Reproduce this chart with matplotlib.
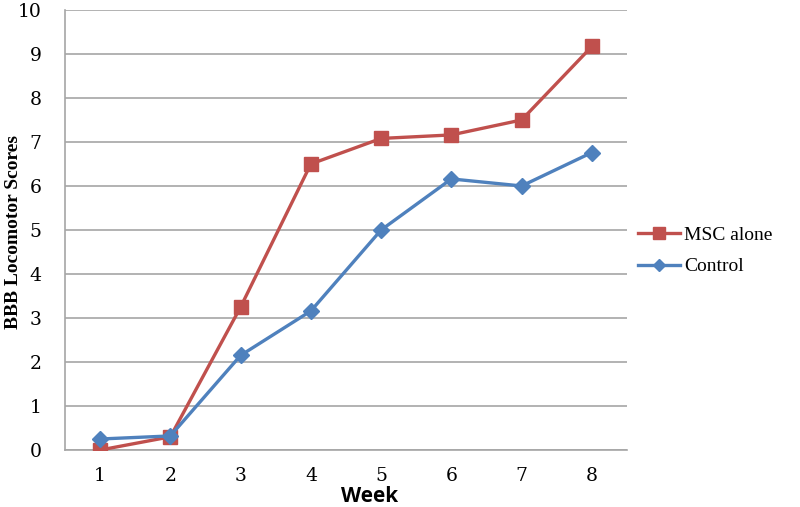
import matplotlib
matplotlib.use("Agg")
import matplotlib.pyplot as plt
from matplotlib.lines import Line2D

weeks = [1, 2, 3, 4, 5, 6, 7, 8]
msc_alone = [0.0, 0.3, 3.25, 6.5, 7.08, 7.16, 7.5, 9.17]
control = [0.25, 0.32, 2.15, 3.16, 5.0, 6.16, 6.0, 6.76]

red = "#C0504D"
blue = "#4F81BD"

fig = plt.figure(figsize=(8, 5.07), dpi=100)
ax = fig.add_axes([0.08125, 0.1124, 0.7025, 0.868])

ax.plot(weeks, msc_alone, color=red, lw=2.4, marker="s", ms=10, label="MSC alone", zorder=3)
ax.plot(weeks, control, color=blue, lw=2.4, marker="D", ms=8.5, label="Control", zorder=4)

ax.set_xlim(0.5, 8.5)
ax.set_ylim(0, 10)
ax.set_yticks(range(0, 11))
ax.set_xticks(weeks)
ax.grid(axis="y", color="#A6A6A6", lw=1.2)
ax.set_axisbelow(True)
for s in ["top", "right"]:
    ax.spines[s].set_visible(False)
ax.spines["left"].set_color("#A6A6A6")
ax.spines["bottom"].set_color("#A6A6A6")
ax.spines["left"].set_linewidth(1.2)
ax.spines["bottom"].set_linewidth(1.2)
ax.tick_params(axis="y", length=0, labelsize=13.5, pad=17)
ax.tick_params(axis="x", length=0, labelsize=13.5, pad=12)
for lab in ax.get_xticklabels() + ax.get_yticklabels():
    lab.set_family("DejaVu Serif")

fig.text(14 / 800, 1 - 232 / 507, "BBB Locomotor Scores", rotation=90, ha="center", va="center",
         family="Liberation Serif", fontweight="bold", fontsize=14)
fig.text(370 / 800, 1 - 497 / 507, "Week", ha="center", va="center",
         family="Open Sans", fontweight="bold", fontsize=15)

handles = [Line2D([], [], color=red, lw=2.4, marker="s", ms=8),
           Line2D([], [], color=blue, lw=2.4, marker="D", ms=6)]
fig.legend(handles, ["MSC alone", "Control"], loc="center left", bbox_to_anchor=(0.797, 0.505),
           frameon=False, prop={"family": "Liberation Serif", "size": 14}, handlelength=2.2,
           handletextpad=0.2, labelspacing=0.7, borderpad=0, borderaxespad=0)

fig.savefig("out.png", dpi=100)
